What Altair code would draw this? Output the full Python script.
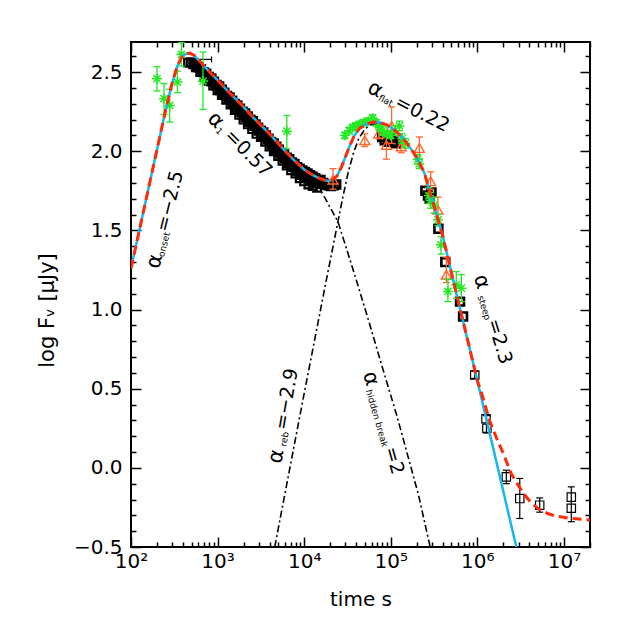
import altair as alt
import pandas as pd

# ------------------------------------------------------------------
# Data.  Times are log10(t / s), fluxes log10(F / uJy)
# ------------------------------------------------------------------
# cyan solid model (onset + decay + re-brightening)
model_lt = [2.00, 2.10, 2.20, 2.30, 2.40, 2.47, 2.53, 2.58, 2.63, 2.68, 2.73, 2.80, 2.90, 3.00,
            3.10, 3.20, 3.30, 3.40, 3.50, 3.60, 3.70, 3.80, 3.90, 4.00, 4.08, 4.15, 4.22, 4.28,
            4.33, 4.38, 4.43, 4.48, 4.53, 4.58, 4.64, 4.72, 4.80, 4.88, 4.96, 5.04, 5.12, 5.20,
            5.27, 5.33, 5.39, 5.46, 5.53, 5.60, 5.70, 5.80, 5.90, 6.00, 6.20, 6.45]
model_lf = [1.26, 1.51, 1.76, 2.01, 2.26, 2.42, 2.53, 2.59, 2.615, 2.62, 2.605, 2.565, 2.505, 2.45,
            2.39, 2.335, 2.28, 2.22, 2.165, 2.11, 2.05, 1.99, 1.935, 1.885, 1.855, 1.835, 1.82, 1.812,
            1.82, 1.845, 1.90, 1.97, 2.04, 2.10, 2.145, 2.172, 2.185, 2.182, 2.165, 2.135, 2.095, 2.04,
            1.985, 1.93, 1.86, 1.725, 1.60, 1.465, 1.235, 1.005, 0.78, 0.55, 0.085, -0.50]
# red dashed model: same as the cyan one up to 1e6 s, then this late tail
tail_lt = [6.05, 6.14, 6.22, 6.30, 6.39, 6.46, 6.53, 6.62, 6.72, 6.82, 6.91, 7.05, 7.30]
tail_lf = [0.47, 0.30, 0.19, 0.09, -0.035, -0.10, -0.16, -0.22, -0.265, -0.29, -0.305, -0.318, -0.33]
# dash-dot component: early decay with hidden break (alpha = 2)
hb_lt = [3.90, 4.00, 4.08, 4.16, 4.24, 4.31, 4.39, 4.48, 4.60, 4.75, 4.90, 5.07, 5.20, 5.32, 5.455]
hb_lf = [1.935, 1.885, 1.84, 1.78, 1.705, 1.635, 1.555, 1.40, 1.19, 0.92, 0.64, 0.33, 0.07, -0.17, -0.50]
# dash-dot component: re-brightening (alpha = -2.9)
rb_lt = [3.66, 3.80, 4.00, 4.15, 4.25, 4.33, 4.39, 4.45, 4.51, 4.57, 4.63, 4.70, 4.78, 4.86, 4.95]
rb_lf = [-0.50, -0.10, 0.47, 0.89, 1.17, 1.39, 1.555, 1.72, 1.87, 1.99, 2.08, 2.14, 2.17, 2.18, 2.165]

# black open squares, dense early decay (three rows of the band)
sq1_lt = [2.66, 2.69, 2.72, 2.75, 2.78, 2.81, 2.84, 2.87, 2.90, 2.93, 2.96, 2.99, 3.02, 3.05,
          3.08, 3.11, 3.14, 3.17, 3.20, 3.23, 3.26, 3.29, 3.32, 3.35, 3.38, 3.41, 3.44, 3.47,
          3.50, 3.53, 3.56, 3.59, 3.62, 3.65, 3.68, 3.71, 3.74, 3.77, 3.80, 3.83, 3.86, 3.89,
          3.92, 3.95, 3.98, 4.01, 4.04, 4.07, 4.10, 4.13, 4.16, 4.19]
sq1_lf = [2.56, 2.56, 2.55, 2.54, 2.53, 2.52, 2.50, 2.49, 2.47, 2.46, 2.44, 2.42, 2.41, 2.39,
          2.37, 2.35, 2.34, 2.32, 2.30, 2.29, 2.27, 2.25, 2.24, 2.22, 2.20, 2.19, 2.17, 2.15,
          2.13, 2.12, 2.10, 2.08, 2.06, 2.05, 2.03, 2.01, 1.99, 1.98, 1.96, 1.95, 1.93, 1.92,
          1.90, 1.89, 1.88, 1.87, 1.86, 1.85, 1.84, 1.83, 1.82, 1.82]
sq2_lt = [2.75, 2.80, 2.85, 2.90, 2.95, 3.00, 3.05, 3.10, 3.15, 3.20, 3.25, 3.30, 3.35, 3.40,
          3.45, 3.50, 3.55, 3.60, 3.65, 3.70, 3.75, 3.80, 3.85, 3.90, 3.95, 4.00, 4.05, 4.10, 4.15]
sq2_lf = [2.53, 2.50, 2.47, 2.445, 2.415, 2.385, 2.355, 2.325, 2.295, 2.26, 2.23, 2.20, 2.17, 2.14,
          2.11, 2.09, 2.06, 2.03, 2.00, 1.97, 1.94, 1.91, 1.88, 1.86, 1.83, 1.81, 1.79, 1.78, 1.77]
sq3_lt = [2.725, 2.775, 2.825, 2.875, 2.925, 2.975, 3.025, 3.075, 3.125, 3.175, 3.225, 3.275,
          3.325, 3.375, 3.425, 3.475, 3.525, 3.575, 3.625, 3.675, 3.725, 3.775, 3.825, 3.875,
          3.925, 3.975, 4.025, 4.075, 4.125, 4.175]
sq3_lf = [2.555, 2.53, 2.50, 2.47, 2.44, 2.415, 2.385, 2.355, 2.33, 2.30, 2.27, 2.245,
          2.215, 2.185, 2.16, 2.13, 2.10, 2.075, 2.045, 2.015, 1.985, 1.955, 1.925, 1.90,
          1.875, 1.85, 1.835, 1.82, 1.805, 1.795]
# black squares that pile up (look solid)
sqb_lt = [4.22, 4.25, 4.28, 4.31, 4.34, 4.37, 4.90, 4.93, 4.97, 5.00, 5.03, 5.06,
          5.40, 5.43, 5.45, 5.47, 5.55, 5.63, 5.80, 5.835]
sqb_lf = [1.80, 1.79, 1.785, 1.78, 1.785, 1.79, 2.09, 2.07, 2.06, 2.08, 2.06, 2.05,
          1.75, 1.72, 1.70, 1.74, 1.51, 1.30, 1.05, 0.956]
# late isolated black squares and their error bars
sql_lt = [5.97, 6.10, 6.11, 6.335, 6.49, 6.72, 7.085, 7.085]
sql_lf = [0.587, 0.31, 0.25, -0.057, -0.194, -0.236, -0.185, -0.255]
sqe_lt = [5.97, 6.105, 6.335, 6.49, 6.72, 7.085]
sqe_lo = [0.565, 0.22, -0.10, -0.32, -0.28, -0.34]
sqe_hi = [0.61, 0.33, -0.015, -0.067, -0.19, -0.12]
# one early square with a horizontal (time) error bar
sqh_lf = [2.58]
sqh_lo = [2.755]
sqh_hi = [2.93]

# green asterisks
g_lt = [2.30, 2.381, 2.447, 2.536, 2.582, 2.831, 3.80,
        4.47, 4.52, 4.56, 4.60, 4.64, 4.69, 4.74, 4.79, 4.83, 4.87, 4.91, 4.96, 5.00, 5.05, 5.10, 5.13, 5.17,
        5.31, 5.33, 5.44, 5.46, 5.50, 5.545, 5.58, 5.66, 5.757, 5.815]
g_lf = [2.458, 2.332, 2.289, 2.437, 2.612, 2.443, 2.127,
        2.10, 2.13, 2.15, 2.16, 2.17, 2.18, 2.19, 2.21, 2.18, 2.15, 2.13, 2.11, 2.10, 2.13, 2.16, 2.08, 2.05,
        1.95, 1.92, 1.72, 1.69, 1.66, 1.567, 1.41, 1.114, 1.156, 1.135]
g_lo = [2.38, 2.232, 2.184, 2.37, 2.538, 2.264, 2.015,
        2.08, 2.11, 2.13, 2.14, 2.15, 2.16, 2.17, 2.19, 2.16, 2.13, 2.10, 2.09, 2.08, 2.10, 2.13, 2.05, 2.02,
        1.92, 1.89, 1.67, 1.64, 1.61, 1.53, 1.35, 1.05, 1.07, 1.05]
g_hi = [2.534, 2.427, 2.39, 2.506, 2.686, 2.627, 2.226,
        2.12, 2.15, 2.17, 2.18, 2.19, 2.20, 2.21, 2.23, 2.20, 2.17, 2.16, 2.13, 2.12, 2.16, 2.19, 2.11, 2.08,
        1.98, 1.95, 1.77, 1.74, 1.71, 1.60, 1.46, 1.19, 1.24, 1.22]

# orange triangles
o_lt = [4.333, 4.70, 4.86, 4.95, 5.01, 5.12, 5.33, 5.46, 5.545, 5.642]
o_lf = [1.82, 2.07, 2.11, 2.04, 2.16, 2.03, 2.02, 1.81, 1.63, 1.22]
o_lo = [1.76, 2.03, 2.08, 1.95, 2.05, 1.99, 1.95, 1.76, 1.57, 1.17]
o_hi = [1.89, 2.11, 2.14, 2.12, 2.28, 2.07, 2.09, 1.87, 1.71, 1.33]

# slope annotations: anchor (log t, log F), text angle, subscript, value
ann_lt = [2.255, 2.921, 4.747, 6.024, 3.666, 4.747]
ann_lf = [1.262, 2.225, 2.409, 1.216, 0.029, 0.605]
ann_angle = [284, 45, 27, 73, 280, 74]
ann_sub = ["onset", "1", "flat", "steep", "reb", "hidden break"]
ann_val = ["=\u22122.5", "=0.57", "=0.22", "=2.3", "=\u22122.9", "=2"]

# x tick labels / ticks
x_major = [10 ** n for n in range(2, 8)]
x_all = [k * 10 ** n for n in range(2, 8) for k in range(1, 10) if k * 10 ** n <= 2e7]
y_major = [-0.5, 0.0, 0.5, 1.0, 1.5, 2.0, 2.5]
y_all = [round(-0.5 + 0.1 * i, 1) for i in range(32)]

# ------------------------------------------------------------------
# styles
# ------------------------------------------------------------------
FONT = "DejaVu Sans"
GREEN = "#22ea22"
ORANGE = "#ff6626"
CYAN = "#17b6ee"
RED = "#ff2a0a"
W, H = 459, 505
sub_dx = [13, 14, 14, 20, 18, 17]
val_dx = [38, 24, 31, 46, 34, 78]
ASTER = "M-1,0L1,0M0,-1L0,1M-0.72,-0.72L0.72,0.72M-0.72,0.72L0.72,-0.72"

XS = alt.Scale(type="log", domain=[100, 2e7])
YS = alt.Scale(domain=[-0.5, 2.69])


def frame(lt, **cols):
    d = {"t": [10.0 ** v for v in lt]}
    d.update(cols)
    return pd.DataFrame(d)


def X(field="t", axis=None):
    return alt.X(f"{field}:Q", scale=XS, axis=axis)


def Y(field="f", axis=None):
    return alt.Y(f"{field}:Q", scale=YS, axis=axis)


xcond = {"condition": {"test": "indexof([100,1000,10000,100000,1000000,10000000], datum.value) >= 0",
                       "value": 10}, "value": 5}
ycond = {"condition": {"test": "abs(datum.value*2 - round(datum.value*2)) < 0.001", "value": 10},
         "value": 5}

tick_common = dict(labels=False, domain=False, grid=False, title="", tickColor="black", tickWidth=1.5)

AX_LAB = alt.Axis(orient="bottom", values=x_major, ticks=False, domain=False, grid=False,
                  labelExpr="'10' + ['\u2070','\u00b9','\u00b2','\u00b3','\u2074','\u2075','\u2076','\u2077','\u2078','\u2079'][round(log(datum.value)/LN10)]",
                  labelFont=FONT, labelFontSize=20, labelColor="black", labelPadding=4,
                  labelFlush=False, labelOverlap=False,
                  title="time  s", titleFont=FONT, titleFontSize=20, titleFontWeight="normal",
                  titleColor="black", titleY=58, titleBaseline="alphabetic")
AX_BOT = alt.Axis(orient="top", offset=-H, values=x_all, tickSize=xcond, **tick_common)
AX_TOP = alt.Axis(orient="bottom", offset=-H, values=x_all, tickSize=xcond, **tick_common)

AY_LAB = alt.Axis(orient="left", values=y_major, ticks=False, domain=False, grid=False,
                  labelExpr="replace(format(datum.value, '.1f'), '-', '\u2212')",
                  labelFont=FONT, labelFontSize=20, labelColor="black", labelPadding=9,
                  labelFlush=False, labelOverlap=False, labelBaseline="middle",
                  title="log   F\u1d65   [\u03bcJy]", titleFont=FONT, titleFontSize=21,
                  titleFontWeight="normal", titleColor="black", titleX=-84, titleY=268,
                  titleBaseline="middle")
AY_LEFT = alt.Axis(orient="right", offset=-W, values=y_all, tickSize=ycond, **tick_common)
AY_RIGHT = alt.Axis(orient="left", offset=-W, values=y_all, tickSize=ycond, **tick_common)

layers = []

# --- black squares ---
band = pd.concat([frame(sq1_lt, f=sq1_lf), frame(sq2_lt, f=sq2_lf), frame(sq3_lt, f=sq3_lf)])
layers.append(alt.Chart(band).mark_point(shape="square", filled=False, color="black", size=62,
                                         strokeWidth=2.2, opacity=1).encode(x=X(), y=Y()))
layers.append(alt.Chart(frame(sqb_lt, f=sqb_lf)).mark_point(
    shape="square", filled=False, color="black", size=62, strokeWidth=2.6, opacity=1).encode(x=X(), y=Y()))
layers.append(alt.Chart(frame(sqe_lt, lo=sqe_lo, hi=sqe_hi)).mark_rule(
    color="black", strokeWidth=1.2).encode(x=X(), y=Y("lo"), y2="hi:Q"))
sq_caps = frame(sqe_lt + sqe_lt, f=sqe_lo + sqe_hi)
layers.append(alt.Chart(sq_caps).mark_tick(orient="horizontal", size=7, thickness=1.2, color="black",
                                           opacity=1).encode(x=X(), y=Y()))
layers.append(alt.Chart(frame(sql_lt, f=sql_lf)).mark_point(
    shape="square", filled=False, color="black", size=70, strokeWidth=1.2, opacity=1).encode(x=X(), y=Y()))
hbar = pd.DataFrame({"t": [10.0 ** sqh_lo[0]], "t2": [10.0 ** sqh_hi[0]], "f": sqh_lf})
layers.append(alt.Chart(hbar).mark_rule(color="black", strokeWidth=1.2).encode(
    x=X(), x2="t2:Q", y=Y()))
hcaps = frame(sqh_lo + sqh_hi, f=sqh_lf + sqh_lf)
layers.append(alt.Chart(hcaps).mark_tick(orient="vertical", size=6, thickness=1.2, color="black",
                                         opacity=1).encode(x=X(), y=Y()))

# --- orange triangles ---
layers.append(alt.Chart(frame(o_lt, lo=o_lo, hi=o_hi)).mark_rule(
    color=ORANGE, strokeWidth=1.3).encode(x=X(), y=Y("lo"), y2="hi:Q"))
layers.append(alt.Chart(frame(o_lt + o_lt, f=o_lo + o_hi)).mark_tick(
    orient="horizontal", size=7, thickness=1.3, color=ORANGE, opacity=1).encode(x=X(), y=Y()))
layers.append(alt.Chart(frame(o_lt, f=o_lf)).mark_point(
    shape="triangle-up", filled=False, color=ORANGE, size=100, strokeWidth=1.4, opacity=1).encode(x=X(), y=Y()))

# --- green asterisks ---
layers.append(alt.Chart(frame(g_lt, lo=g_lo, hi=g_hi)).mark_rule(
    color=GREEN, strokeWidth=1.3).encode(x=X(), y=Y("lo"), y2="hi:Q"))
layers.append(alt.Chart(frame(g_lt + g_lt, f=g_lo + g_hi)).mark_tick(
    orient="horizontal", size=7, thickness=1.3, color=GREEN, opacity=1).encode(x=X(), y=Y()))
layers.append(alt.Chart(frame(g_lt, f=g_lf)).mark_point(
    shape=ASTER, filled=False, color=GREEN, size=100, strokeWidth=1.5, opacity=1).encode(x=X(), y=Y()))

# --- model curves ---
layers.append(alt.Chart(frame(rb_lt, f=rb_lf)).mark_line(
    color="black", strokeWidth=1.6, strokeDash=[7, 3, 2, 3], clip=True).encode(x=X(), y=Y()))
layers.append(alt.Chart(frame(hb_lt, f=hb_lf)).mark_line(
    color="black", strokeWidth=1.6, strokeDash=[7, 3, 2, 3], clip=True).encode(
    x=X(axis=AX_TOP), y=Y(axis=AY_RIGHT)))
layers.append(alt.Chart(frame(model_lt, f=model_lf)).mark_line(
    color=CYAN, strokeWidth=2.5, clip=True).encode(x=X(axis=AX_LAB), y=Y(axis=AY_LAB)))
red_lt = [v for v in model_lt if v <= 6.0] + tail_lt
red_lf = [f for v, f in zip(model_lt, model_lf) if v <= 6.0] + tail_lf
layers.append(alt.Chart(frame(red_lt, f=red_lf)).mark_line(
    color=RED, strokeWidth=3, strokeDash=[9, 5], clip=True).encode(x=X(axis=AX_BOT), y=Y(axis=AY_LEFT)))

# --- slope annotations ---
for i in range(len(ann_lt)):
    d = frame([ann_lt[i]], f=[ann_lf[i]], a=["\u03b1"], s=[ann_sub[i]], v=[ann_val[i]])
    base = alt.Chart(d)
    layers.append(base.mark_text(align="left", baseline="middle", angle=ann_angle[i], font=FONT,
                                 fontSize=21, color="black").encode(
        x=X(), y=Y(), text="a:N"))
    layers.append(base.mark_text(align="left", baseline="middle", angle=ann_angle[i], font=FONT,
                                 fontSize=9, color="black", dx=sub_dx[i], dy=5).encode(
        x=X(), y=Y(), text="s:N"))
    layers.append(base.mark_text(align="left", baseline="middle", angle=ann_angle[i], font=FONT,
                                 fontSize=19, color="black", dx=val_dx[i]).encode(
        x=X(), y=Y(), text="v:N"))

chart = alt.layer(*layers).resolve_axis(x="independent", y="independent").properties(
    width=W, height=H,
    autosize=alt.AutoSizeParams(type="none"),
    padding={"left": 123, "top": 34, "right": 31, "bottom": 74},
).configure_view(stroke="black", strokeWidth=2).configure_axis(grid=False)

chart.save("out.html", embed_options={"renderer": "svg", "actions": False})
